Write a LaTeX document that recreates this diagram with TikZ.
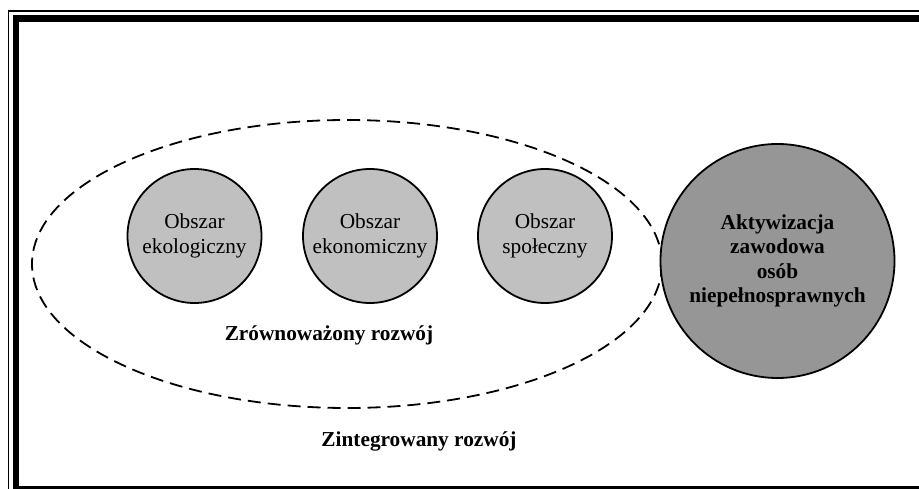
\documentclass[tikz,border=0pt]{standalone}
\usepackage{fontspec}
\setmainfont{Liberation Serif}
\usetikzlibrary{shapes.geometric}
\definecolor{areagray}{HTML}{C0C0C0}
\definecolor{maingray}{HTML}{969696}
\begin{document}
\begin{tikzpicture}
[x=1pt,y=-1pt,
areanode/.style={circle,draw,line width=1.8pt,fill=areagray,minimum size=134pt,
inner sep=0pt,align=center,font=\fontsize{21.3}{25}\selectfont},
mainnode/.style={circle,draw,line width=1.8pt,fill=maingray,minimum size=234pt,
inner sep=0pt,align=center,font=\fontsize{21.3}{24.5}\selectfont\bfseries},
sustainnode/.style={ellipse,draw,line width=1.8pt,dash pattern=on 13pt off 7pt,
minimum width=630pt,minimum height=288pt,inner sep=0pt},
caption/.style={font=\fontsize{21.3}{25}\selectfont\bfseries}
]
\useasboundingbox (0,0) rectangle (919,489);
\clip (0,0) rectangle (919,489);
% frame (cut off at the right and at the bottom)
\draw [line width=1.8pt] (8.5,495) -- (8.5,11) -- (925,11);
\draw [line width=6.5pt] (925,18.7) -- (16,18.7) -- (16,489.5) -- (925,489.5);
% areas
\node [sustainnode] (Sustain) at (347,264) {};
\node [areanode] (Eco) at (194.5,236) {Obszar\\ekologiczny};
\node [areanode] (Econ) at (370,236) {Obszar\\ekonomiczny};
\node [areanode] (Soc) at (545,236) {Obszar\\społeczny};
\node [mainnode] (Activ) at (777.5,261) {Aktywizacja\\zawodowa\\osób\\niepełnosprawnych};
\node [caption] (SustainLabel) at (329,335) {Zrównoważony rozwój};
\node [caption] (IntegLabel) at (419,441) {Zintegrowany rozwój};
\end{tikzpicture}
\end{document}
